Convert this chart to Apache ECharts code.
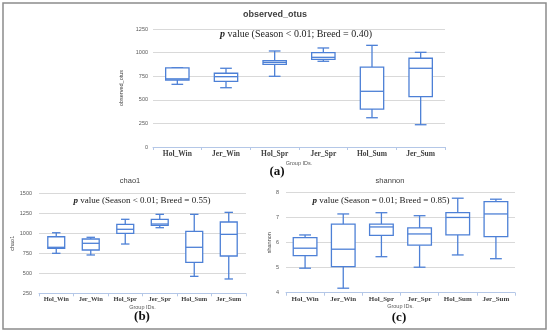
<!DOCTYPE html>
<html>
<head>
<meta charset="utf-8">
<script src="https://cdn.jsdelivr.net/npm/echarts@6/dist/echarts.min.js"></script>
<style>
html,body{margin:0;padding:0;background:#fff;}
#chart{width:550px;height:333px;}
</style>
</head>
<body>
<div id="chart"></div>
<script>
// Group labels
const categories = ['Hol_Win', 'Jer_Win', 'Hol_Spr', 'Jer_Spr', 'Hol_Sum', 'Jer_Sum'];
// Each entry: [lower whisker, Q1, median, Q3, upper whisker]
const observedOtus = [
  [664, 710, 722, 838, 840],
  [628, 696, 745, 781, 834],
  [749, 876, 897, 914, 1017],
  [908, 929, 950, 999, 1049],
  [310, 402, 590, 847, 1077],
  [236, 533, 834, 940, 1003]
];
const chao1 = [
  [750, 812, 825, 957, 1007],
  [729, 791, 875, 929, 950],
  [866, 1000, 1050, 1112, 1175],
  [1070, 1100, 1116, 1175, 1237],
  [462, 637, 825, 1025, 1237],
  [429, 716, 987, 1141, 1262]
];
const shannon = [
  [4.98, 5.48, 5.78, 6.20, 6.31],
  [4.18, 5.04, 5.74, 6.74, 7.15],
  [5.44, 6.29, 6.63, 6.74, 7.20],
  [5.02, 5.90, 6.35, 6.59, 7.08],
  [5.51, 6.31, 7.01, 7.20, 7.78],
  [5.36, 6.24, 7.15, 7.64, 7.74]
];
// Axis ranges / ticks
const otusTicks = {min: 0, max: 1250, interval: 250};
const chaoTicks = {min: 250, max: 1500, interval: 250};
const shannonTicks = {min: 4, max: 8, interval: 1};
// Texts
const panelTitles = ['observed_otus', 'chao1', 'shannon'];
const pTexts = ['(Season < 0.01; Breed = 0.40)', '(Season < 0.01; Breed = 0.55)', '(Season = 0.01; Breed = 0.85)'];
const panelLetters = ['(a)', '(b)', '(c)'];
const xName = 'Group IDs.';

const BLUE = '#4d80d6';

function toRows(arr) {
  return arr.map((d, i) => [i].concat(d));
}

function makeRender(frac) {
  return function (params, api) {
    const idx = api.value(0);
    const x = api.coord([idx, 0])[0];
    const band = api.size([1, 0])[0];
    const ys = [1, 2, 3, 4, 5].map(k => api.coord([idx, api.value(k)])[1]);
    const bw = band * frac;
    const cw = bw * 0.5;
    const st = {stroke: BLUE, lineWidth: 1.3, fill: null};
    return {
      type: 'group',
      children: [
        {type: 'line', shape: {x1: x, y1: ys[0], x2: x, y2: ys[1]}, style: st},
        {type: 'line', shape: {x1: x, y1: ys[3], x2: x, y2: ys[4]}, style: st},
        {type: 'line', shape: {x1: x - cw / 2, y1: ys[0], x2: x + cw / 2, y2: ys[0]}, style: st},
        {type: 'line', shape: {x1: x - cw / 2, y1: ys[4], x2: x + cw / 2, y2: ys[4]}, style: st},
        {type: 'rect', shape: {x: x - bw / 2, y: ys[3], width: bw, height: ys[1] - ys[3]}, style: {stroke: BLUE, lineWidth: 1.3, fill: '#ffffff'}},
        {type: 'line', shape: {x1: x - bw / 2, y1: ys[2], x2: x + bw / 2, y2: ys[2]}, style: st}
      ]
    };
  };
}

const grids = [
  {left: 153, width: 292, top: 29, height: 118},
  {left: 39, width: 207, top: 193.3, height: 100},
  {left: 286, width: 229, top: 192.7, height: 100}
];
const yNames = ['observed_otus', 'chao1', 'shannon'];
const yNameGaps = [25, 24, 11];
const yLabelMargins = [5, 7, 7];
const xNameGaps = [13, 10, 10];
const catFont = [7.5, 6.5, 7];
const ticks = [otusTicks, chaoTicks, shannonTicks];

const xAxes = grids.map((g, i) => ({
  type: 'category', gridIndex: i, data: categories,
  axisLine: {lineStyle: {color: '#b4c7e7', width: 1}},
  axisTick: {show: true, length: 3, lineStyle: {color: '#b4c7e7'}},
  axisLabel: {fontFamily: 'Liberation Serif', fontWeight: 'bold', fontSize: catFont[i], color: '#404040', margin: 3},
  name: xName, nameLocation: 'middle', nameGap: xNameGaps[i],
  nameTextStyle: {fontFamily: 'Liberation Sans', fontSize: 5.5, color: '#595959'}
}));
const yAxes = grids.map((g, i) => ({
  type: 'value', gridIndex: i, min: ticks[i].min, max: ticks[i].max, interval: ticks[i].interval,
  axisLine: {show: false}, axisTick: {show: false},
  splitLine: {lineStyle: {color: '#d9d9d9', width: 1}},
  axisLabel: {fontFamily: 'Liberation Sans', fontSize: 5.5, color: '#595959', margin: yLabelMargins[i], formatter: v => String(v)},
  name: yNames[i], nameLocation: 'middle', nameGap: yNameGaps[i], nameRotate: 90,
  nameTextStyle: {fontFamily: 'Liberation Sans', fontSize: 5.5, color: '#404040'}
}));

const datasets = [observedOtus, chao1, shannon];
const fracs = [0.48, 0.49, 0.62];
const series = datasets.map((d, i) => ({
  type: 'custom', xAxisIndex: i, yAxisIndex: i,
  renderItem: makeRender(fracs[i]),
  encode: {x: 0, y: [1, 2, 3, 4, 5]},
  data: toRows(d), z: 3
}));

function pText(x, y, s, size) {
  return {
    type: 'text', x: x, y: y,
    style: {
      text: '{p|p} value ' + s,
      align: 'center', verticalAlign: 'middle',
      rich: {p: {fontFamily: 'Liberation Serif', fontWeight: 'bold', fontStyle: 'italic', fontSize: size, fill: '#222'}},
      fontFamily: 'Liberation Serif', fontSize: size, fill: '#222'
    }
  };
}

const graphics = [
  {type: 'rect', shape: {x: 3, y: 3, width: 543, height: 326}, style: {stroke: '#8c8c8c', lineWidth: 1.5, fill: null}, z: 0},
  {type: 'text', x: 275, y: 15, style: {text: panelTitles[0], align: 'center', verticalAlign: 'middle', fontFamily: 'Liberation Sans', fontWeight: 'bold', fontSize: 9, fill: '#404040'}},
  {type: 'text', x: 130, y: 181, style: {text: panelTitles[1], align: 'center', verticalAlign: 'middle', fontFamily: 'Liberation Sans', fontSize: 7.5, fill: '#404040'}},
  {type: 'text', x: 390, y: 181, style: {text: panelTitles[2], align: 'center', verticalAlign: 'middle', fontFamily: 'Liberation Sans', fontSize: 7.5, fill: '#404040'}},
  pText(296, 34, pTexts[0], 10),
  pText(142, 200.7, pTexts[1], 9),
  pText(381, 200.7, pTexts[2], 9),
  {type: 'text', x: 277, y: 172, style: {text: panelLetters[0], align: 'center', verticalAlign: 'middle', fontFamily: 'Liberation Serif', fontWeight: 'bold', fontSize: 13, fill: '#111'}},
  {type: 'text', x: 142, y: 317, style: {text: panelLetters[1], align: 'center', verticalAlign: 'middle', fontFamily: 'Liberation Serif', fontWeight: 'bold', fontSize: 13, fill: '#111'}},
  {type: 'text', x: 399, y: 318, style: {text: panelLetters[2], align: 'center', verticalAlign: 'middle', fontFamily: 'Liberation Serif', fontWeight: 'bold', fontSize: 13, fill: '#111'}}
];

const chart = echarts.init(document.getElementById('chart'), null, {renderer: 'canvas'});
chart.setOption({
  animation: false,
  backgroundColor: '#ffffff',
  grid: grids,
  xAxis: xAxes,
  yAxis: yAxes,
  series: series,
  graphic: graphics
});
</script>
</body>
</html>
